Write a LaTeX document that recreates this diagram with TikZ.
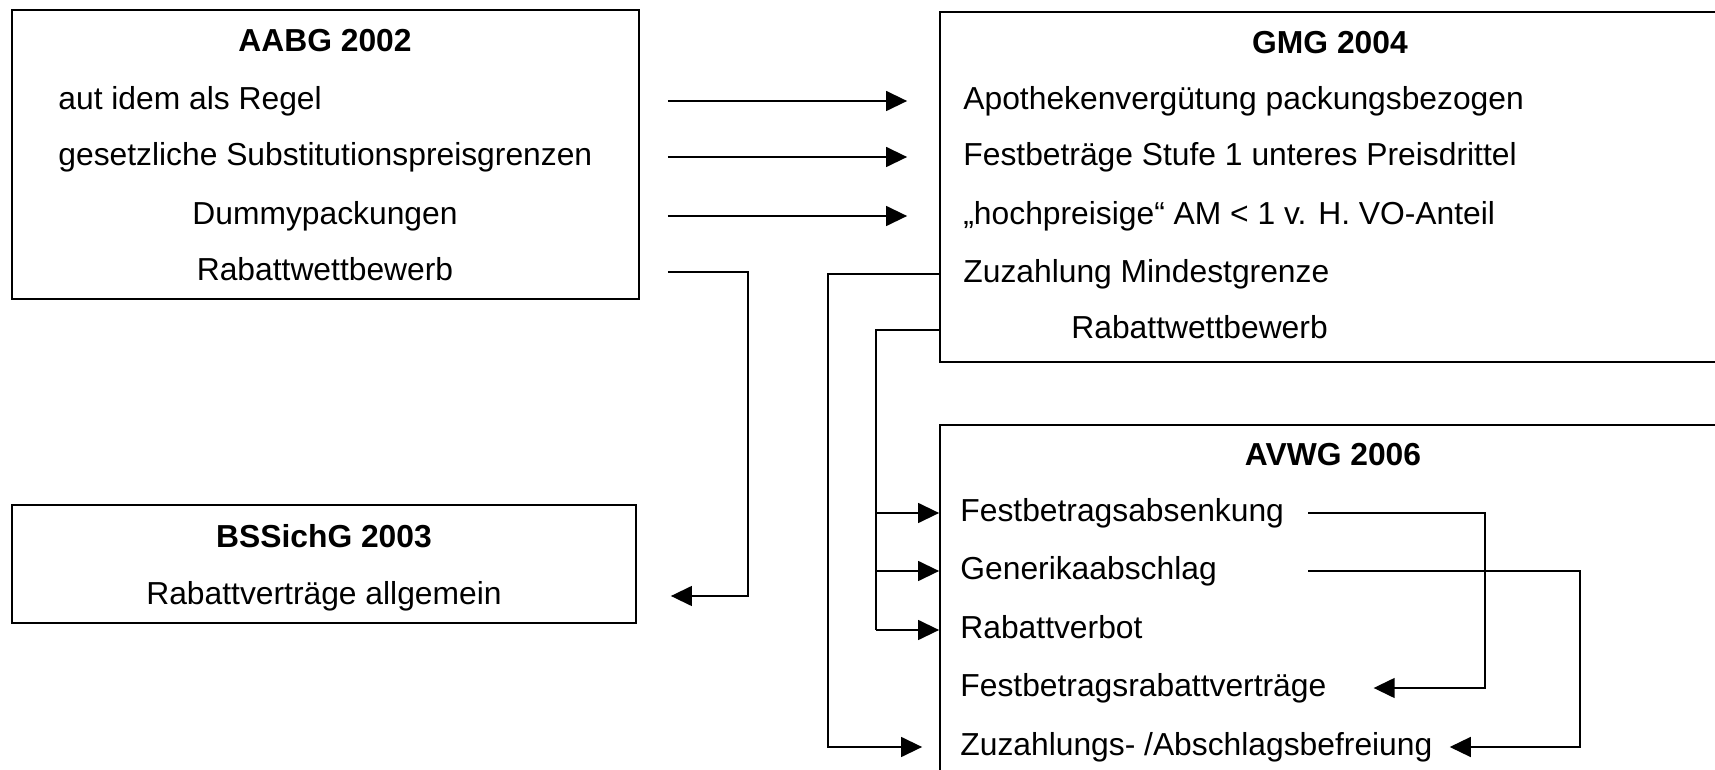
\documentclass[tikz,border=0pt]{standalone}
\usepackage{fontspec}
\setmainfont{Liberation Sans}
\usetikzlibrary{arrows.meta}

\begin{document}
\begin{tikzpicture}[x=0.5pt, y=-0.5pt,
  every node/.style={font=\fontsize{15.9}{19}\selectfont, inner sep=0pt},
  box/.style={draw, line width=0.9pt, rectangle},
  row/.style={text height=12pt, text depth=3.5pt},
  head/.style={row, font=\fontsize{15.9}{19}\selectfont\bfseries},
  conn/.style={line width=0.7pt},
  arr/.style={conn, -{Triangle[length=10.5pt, width=10pt]}}]
\useasboundingbox (0,0) rectangle (1715,770);
\clip (0,0) rectangle (1715,770);

% AABG 2002
\node[box, minimum width=313.5pt, minimum height=144.5pt] (aabg) at (325.5,154.5) {};
\node[head] (aabgT) at (325,43) {AABG 2002};
\node[row, anchor=west] (a1) at (58,101) {aut idem als Regel};
\node[row, anchor=west] (a2) at (58,157) {gesetzliche Substitutionspreisgrenzen};
\node[row] (a3) at (325,216) {Dummypackungen};
\node[row] (a4) at (325,272) {Rabattwettbewerb};

% GMG 2004
\node[box, minimum width=391pt, minimum height=175pt] (gmg) at (1331,187) {};
\node[head] (gmgT) at (1330,45) {GMG 2004};
\node[row, anchor=west] (g1) at (963,101) {Apothekenvergütung packungsbezogen};
\node[row, anchor=west] (g2) at (963,157) {Festbeträge Stufe 1 unteres Preisdrittel};
\node[row, anchor=west] (g3) at (963,216) {„hochpreisige“ AM < 1 v. H. VO-Anteil};
\node[row, anchor=west] (g4) at (963,274) {Zuzahlung Mindestgrenze};
\node[row, anchor=west] (g5) at (1071,330) {Rabattwettbewerb};

% BSSichG 2003
\node[box, minimum width=312pt, minimum height=59pt] (bss) at (324,564) {};
\node[head] (bssT) at (324,539) {BSSichG 2003};
\node[row] (b1) at (324,596) {Rabattverträge allgemein};

% AVWG 2006
\node[box, minimum width=391pt, minimum height=187.5pt] (avwg) at (1331,612.5) {};
\node[head] (avwgT) at (1333,457) {AVWG 2006};
\node[row, anchor=west] (v1) at (960,513) {Festbetragsabsenkung};
\node[row, anchor=west] (v2) at (960,571) {Generikaabschlag};
\node[row, anchor=west] (v3) at (960,630) {Rabattverbot};
\node[row, anchor=west] (v4) at (960,688) {Festbetragsrabattverträge};
\node[row, anchor=west] (v5) at (960,747) {Zuzahlungs- /Abschlagsbefreiung};

% Knickpunkte (nur x)
\coordinate (k1) at (748,0);
\coordinate (k2) at (828,0);
\coordinate (k3) at (876,0);
\coordinate (k4) at (1308,0);
\coordinate (k5) at (1485,0);
\coordinate (k6) at (1580,0);

% AABG -> GMG
\foreach \i in {1,2,3}
  \draw[arr, shorten <=14pt, shorten >=16pt] (aabg.east |- g\i) -- (gmg.west |- g\i);

% AABG -> BSSichG
\draw[arr, shorten <=14pt, shorten >=17pt] (aabg.east |- a4) -- (k1 |- a4) -- (k1 |- b1) -- (bss.east |- b1);

% GMG -> AVWG
\draw[arr, shorten >=8.5pt] (gmg.west |- g4) -- (k2 |- g4) -- (k2 |- v5) -- (avwg.west |- v5);
\draw[conn] (gmg.west |- g5) -- (k3 |- g5) -- (k3 |- v3);
\foreach \i in {1,2,3}
  \draw[arr] (k3 |- v\i) -- (avwg.west |- v\i);

% innerhalb AVWG
\draw[arr, shorten >=23.5pt] (k4 |- v1) -- (k5 |- v1) -- (k5 |- v4) -- (v4.east);
\draw[arr, shorten >=8.5pt] (k4 |- v2) -- (k6 |- v2) -- (k6 |- v5) -- (v5.east);
\end{tikzpicture}
\end{document}
